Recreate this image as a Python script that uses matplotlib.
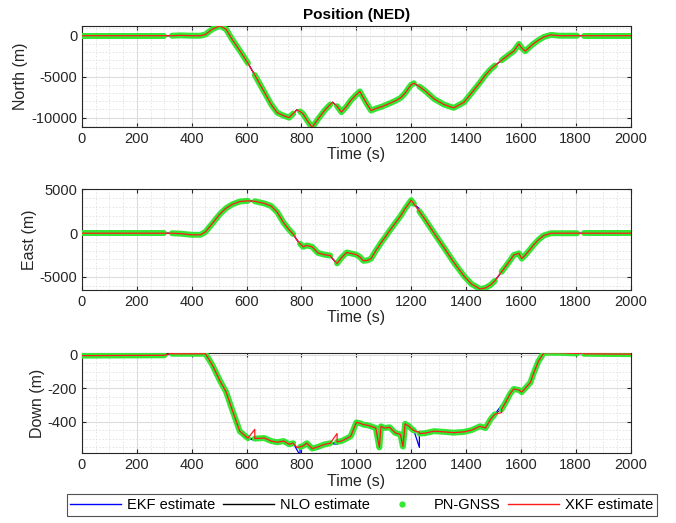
import numpy as np
import matplotlib
matplotlib.use("Agg")
import matplotlib.pyplot as plt
from matplotlib.lines import Line2D
from matplotlib.ticker import MultipleLocator

plt.rcParams['font.family'] = ['Liberation Sans', 'DejaVu Sans']
plt.rcParams['axes.unicode_minus'] = False

# time stamps (s)
t = np.array([0, 300, 328, 360, 400, 432, 450, 475, 503, 525, 548, 575, 605, 630,
              665, 690, 712, 735, 755, 770, 783, 795, 806, 820, 839, 860, 884, 905,
              913, 930, 946, 965, 980, 1000, 1013, 1026, 1040, 1054, 1071, 1084,
              1090, 1103, 1122, 1142, 1161, 1170, 1178, 1193, 1200, 1210, 1230,
              1250, 1284, 1320, 1355, 1393, 1420, 1451, 1471, 1490, 1505, 1530,
              1542, 1561, 1574, 1593, 1603, 1616, 1635, 1645, 1664, 1684, 1710,
              1740, 1805, 1830, 1900, 2000])

north = np.array([0, 0, 0, 40, 0, 0, 150, 800, 1200, 800, -480, -1800, -3350, -4800,
                  -6900, -8400, -9400, -9750, -10000, -9500, -9050, -9250, -9530,
                  -10300, -11200, -10200, -9130, -8400, -8120, -8600, -9330, -8600,
                  -7900, -7200, -6800, -7600, -8400, -9130, -8900, -8750, -8700,
                  -8520, -8250, -7950, -7600, -7300, -7000, -6300, -5990, -5800,
                  -6200, -6700, -7720, -8400, -8800, -8120, -7000, -5710, -4800,
                  -4100, -3650, -3000, -2690, -2200, -1890, -1000, -1500, -1890,
                  -1300, -1000, -550, -150, 100, 0, 0, 0, 0, 0])

east = np.array([0, 0, 0, -50, -180, -180, 150, 1100, 2200, 2850, 3300, 3620, 3700,
                 3650, 3400, 3100, 2400, 1200, 400, -100, -740, -1200, -1550, -1400,
                 -1550, -2250, -2450, -2550, -2900, -3450, -2800, -2200, -2300,
                 -2450, -2700, -3150, -3100, -2900, -2000, -1400, -1100, -550, 300,
                 1150, 1950, 2400, 2800, 3450, 3780, 3350, 2500, 1600, 0, -1650,
                 -3300, -4900, -5800, -6370, -6250, -5900, -5450, -4400, -3900,
                 -3100, -2500, -2300, -2900, -2500, -1800, -1400, -750, -250, 0, 0,
                 0, 0, 0, 0])

down = np.array([-5, -3, 6, 6, 6, 6, 6, -60, -155, -220, -330, -456, -498, -500,
                 -497, -515, -522, -515, -534, -528, -553, -550, -544, -528, -560,
                 -550, -535, -528, -528, -520, -515, -500, -486, -404, -408, -417,
                 -420, -427, -437, -553, -427, -437, -433, -466, -476, -548, -412,
                 -427, -440, -452, -470, -468, -456, -460, -465, -460, -450, -427,
                 -437, -384, -355, -325, -291, -233, -204, -210, -223, -200, -165,
                 -117, -39, 12, 12, 12, 8, 6, 5, 4])

# GNSS outages (start, end) in s
outages = [(300, 328), (605, 630), (770, 795), (905, 930), (1210, 1230),
           (1505, 1530), (1805, 1830)]

# estimator drift at end of an outage: (start, end, value at end)
xkf_down = [(300, 328, 10), (605, 630, -445), (905, 930, -470), (1210, 1230, -462),
            (1505, 1530, -345), (1805, 1830, 12)]
ekf_down = [(605, 630, -512), (770, 795, -600), (905, 930, -535),
            (1210, 1230, -553), (1505, 1530, -300)]
ekf_east = [(1210, 1230, 2800)]


def with_drift(t, v, drifts):
    out_t, out_v = [], []
    for ti, vi in zip(t, v):
        if any(a < ti < b for a, b, _ in drifts):
            continue
        for a, b, ve in drifts:
            if ti == b:
                out_t.append(b)
                out_v.append(ve)
        out_t.append(ti)
        out_v.append(vi)
    return out_t, out_v


green = '#33e833'
panels = [
    (north, 'North (m)', (-11150, 1230), [-10000, -5000, 0], 1000, [], []),
    (east, 'East (m)', (-6450, 5050), [-5000, 0, 5000], 1000, ekf_east, []),
    (down, 'Down (m)', (-588, 13), [-400, -200, 0], 50, ekf_down, xkf_down),
]

fig = plt.figure(figsize=(6.76, 5.23), dpi=100)
bottoms = [0.757, 0.4461, 0.1333]
heights = [0.194, 0.1925, 0.1925]

for (vals, ylab, ylim, yt, ymin, ekf_d, xkf_d), b, h in zip(panels, bottoms, heights):
    ax = fig.add_axes([0.1213, b, 0.8115, h])
    te, ve = with_drift(t, vals, ekf_d)
    ax.plot(te, ve, color='#0000ff', lw=0.9, zorder=2)
    ax.plot(t, vals, color='black', lw=0.6, zorder=1.5)
    # GNSS available between outages
    edges = [0] + [x for o in outages for x in o] + [2000]
    for s, e in zip(edges[::2], edges[1::2]):
        m = (t >= s) & (t <= e)
        ax.plot(t[m], vals[m], color=green, lw=4.3, solid_capstyle='round', zorder=3)
    tx, vx = with_drift(t, vals, xkf_d)
    ax.plot(tx, vx, color='#ff1a1a', lw=0.9, zorder=5)

    ax.set_xlim(0, 2000)
    ax.set_ylim(*ylim)
    ax.set_xticks(range(0, 2001, 200))
    ax.set_yticks(yt)
    ax.xaxis.set_minor_locator(MultipleLocator(50))
    ax.yaxis.set_minor_locator(MultipleLocator(ymin))
    ax.grid(True, which='major', color='#dcdcdc', lw=0.8)
    ax.grid(True, which='minor', color='#e2e2e2', lw=0.6, ls=(0, (2, 2)))
    ax.set_axisbelow(True)
    ax.tick_params(which='both', direction='in', top=True, right=True,
                   labelsize=10.5, colors='#262626', length=3)
    ax.tick_params(which='minor', length=0)
    for sp in ax.spines.values():
        sp.set_color('#262626')
        sp.set_linewidth(0.8)
    ax.set_xlabel('Time (s)', fontsize=11.5, color='#262626', labelpad=1)
    ax.set_ylabel(ylab, fontsize=11.5, color='#262626', labelpad=2)
    if ylab.startswith('North'):
        ax.set_title('Position (NED)', fontsize=11, fontweight='bold', pad=5)

handles = [Line2D([], [], color='#0000ff', lw=1),
           Line2D([], [], color='black', lw=1),
           Line2D([], [], color=green, ls='none', marker='.', markersize=7),
           Line2D([], [], color='#ff1a1a', lw=1)]
labels = ['EKF estimate', 'NLO estimate', 'PN-GNSS', 'XKF estimate']
leg = fig.legend(handles, labels, ncol=4, loc='lower center',
                 bbox_to_anchor=(0.535, 0.0), fontsize=10.5, frameon=True,
                 fancybox=False, edgecolor='#262626', handlelength=3.5,
                 handletextpad=0.4, columnspacing=0.5, borderpad=0.25)
leg.get_frame().set_linewidth(0.8)

fig.savefig('out.png', dpi=100)
